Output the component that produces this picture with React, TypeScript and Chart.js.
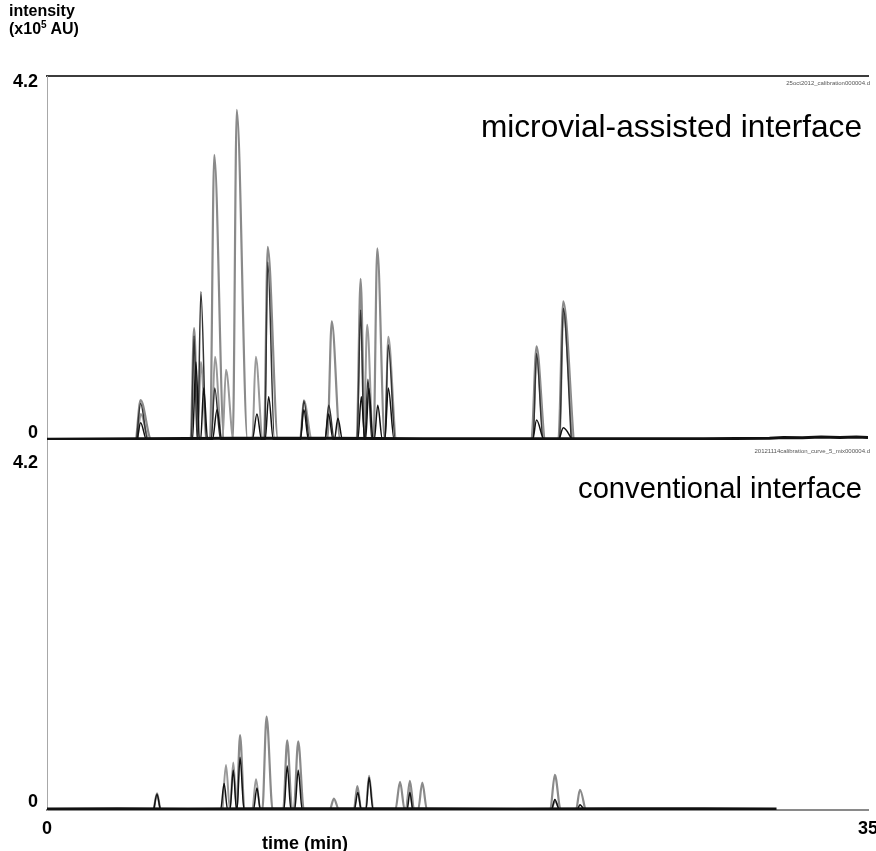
import React, { useEffect, useRef } from 'react';
import { Chart, registerables } from 'chart.js';

Chart.register(...registerables);

const FONT = '"Liberation Sans", Arial, Helvetica, sans-serif';

// ---- text ----
const yTitleLine1 = 'intensity';
const yTitleUnitPre = '(x10';
const yTitleUnitSup = '5';
const yTitleUnitPost = ' AU)';
const xTitle = 'time (min)';
const topPanelLabel = 'microvial-assisted interface';
const bottomPanelLabel = 'conventional interface';
const topFileName = '25oct2012_calibration000004.d';
const bottomFileName = '20121114calibration_curve_5_mix000004.d';
const xTickLabels = ['0', '35'];
const yTickLabels = ['0', '4.2'];

// ---- axis ranges (time in min, intensity in 1e5 AU) ----
const timeMin = 0;
const timeMax = 35;
const intensityMax = 4.2;

// ---- peaks: [start time, apex time, end time, apex intensity] ----
// microvial-assisted interface (top panel)
const topGrayPeaks = [
  [3.8, 3.99, 4.45, 0.46],
  [6.12, 6.27, 6.45, 1.29],
  [6.95, 7.13, 7.55, 3.29],
  [7.92, 8.09, 8.55, 3.81],
  [9.25, 9.41, 9.85, 2.23],
  [11.95, 12.14, 12.5, 1.37],
  [13.2, 13.37, 13.55, 1.86],
  [13.92, 14.08, 14.4, 2.21],
  [20.65, 20.87, 21.25, 1.08],
  [21.8, 22.01, 22.45, 1.6],
];
const topGray2Peaks = [
  [3.85, 4.0, 4.35, 0.3],
  [6.42, 6.56, 6.8, 0.9],
  [7.0, 7.16, 7.45, 0.96],
  [7.48, 7.63, 7.95, 0.81],
  [8.75, 8.9, 9.2, 0.96],
  [10.78, 10.95, 11.3, 0.46],
  [13.5, 13.65, 13.9, 1.33],
  [14.4, 14.55, 14.9, 1.19],
  [20.7, 20.87, 21.2, 0.95],
  [21.85, 22.01, 22.4, 1.45],
];
const topDarkPeaks = [
  [3.82, 3.99, 4.3, 0.42],
  [6.15, 6.27, 6.4, 1.2],
  [6.42, 6.56, 6.8, 1.71],
  [7.0, 7.15, 7.4, 0.6],
  [9.28, 9.41, 9.7, 2.05],
  [10.8, 10.95, 11.2, 0.45],
  [11.85, 12.01, 12.25, 0.4],
  [13.22, 13.37, 13.52, 1.5],
  [13.55, 13.68, 13.85, 0.7],
  [14.4, 14.55, 14.85, 1.1],
  [20.72, 20.87, 21.15, 1.0],
  [21.85, 22.01, 22.35, 1.52],
];
const topBlackPeaks = [
  [3.85, 3.99, 4.25, 0.2],
  [6.2, 6.35, 6.5, 0.9],
  [6.55, 6.68, 6.85, 0.6],
  [7.05, 7.25, 7.45, 0.35],
  [8.75, 8.95, 9.15, 0.3],
  [9.3, 9.45, 9.65, 0.5],
  [10.8, 10.95, 11.15, 0.35],
  [11.85, 12.0, 12.2, 0.3],
  [12.25, 12.4, 12.6, 0.25],
  [13.25, 13.4, 13.55, 0.5],
  [13.58, 13.72, 13.9, 0.6],
  [13.95, 14.1, 14.3, 0.4],
  [14.4, 14.55, 14.8, 0.6],
  [20.7, 20.87, 21.2, 0.23],
  [21.8, 22.01, 22.4, 0.14],
];
// baseline: [time, intensity]
const topBaseline = [
  [0, 0.01], [4, 0.015], [8, 0.02], [12, 0.02], [16, 0.015], [20, 0.015],
  [24, 0.015], [28, 0.015], [30.8, 0.02], [31.4, 0.03], [32.2, 0.025],
  [33.0, 0.035], [33.8, 0.03], [34.5, 0.035], [35, 0.03],
];

// conventional interface (bottom panel)
const bottomGrayPeaks = [
  [4.55, 4.69, 4.85, 0.19],
  [8.08, 8.23, 8.42, 0.85],
  [9.18, 9.36, 9.62, 1.06],
  [10.07, 10.24, 10.45, 0.79],
  [10.52, 10.71, 10.95, 0.78],
  [12.05, 12.23, 12.45, 0.13],
  [13.08, 13.23, 13.4, 0.27],
  [14.85, 15.05, 15.25, 0.32],
  [15.3, 15.47, 15.65, 0.33],
  [15.82, 16.0, 16.2, 0.31],
  [21.45, 21.65, 21.9, 0.4],
  [22.55, 22.72, 22.95, 0.23],
];
const bottomGray2Peaks = [
  [7.48, 7.63, 7.8, 0.51],
  [7.8, 7.94, 8.1, 0.54],
  [8.75, 8.91, 9.1, 0.35],
  [13.58, 13.73, 13.92, 0.39],
  [15.3, 15.47, 15.6, 0.25],
  [21.5, 21.65, 21.85, 0.1],
];
const bottomDarkPeaks = [
  [4.55, 4.69, 4.85, 0.18],
  [7.4, 7.55, 7.7, 0.3],
  [7.8, 7.94, 8.08, 0.45],
  [8.1, 8.23, 8.4, 0.6],
  [8.8, 8.95, 9.1, 0.25],
  [10.1, 10.24, 10.4, 0.5],
  [10.56, 10.71, 10.88, 0.45],
  [13.1, 13.25, 13.4, 0.2],
  [13.6, 13.73, 13.9, 0.37],
  [15.35, 15.47, 15.6, 0.2],
  [21.5, 21.65, 21.85, 0.12],
  [22.6, 22.72, 22.9, 0.06],
];
const bottomBaseline = [
  [0, 0.01], [3, 0.015], [6, 0.01], [9, 0.015], [12, 0.015], [16, 0.015],
  [20, 0.01], [24, 0.015], [28, 0.015], [31.1, 0.01],
];

const GRAY = '#8a8a8a';
const GRAY2 = '#999999';
const DARK = '#333333';
const BLACK = '#111111';

function peaksToPoints(peaks: number[][]) {
  const pts: { x: number; y: number }[] = [];
  peaks.forEach(([s, a, e, h]) => {
    pts.push({ x: s, y: 0 }, { x: a, y: h }, { x: e, y: 0 });
  });
  return pts;
}
function pairsToPoints(pairs: number[][]) {
  return pairs.map(([x, y]) => ({ x, y }));
}

function peakDataset(peaks: number[][], axis: string, color: string, width: number) {
  return {
    data: peaksToPoints(peaks),
    yAxisID: axis,
    xAxisID: 'x',
    borderColor: color,
    borderWidth: width,
    pointRadius: 0,
    fill: false,
    cubicInterpolationMode: 'monotone' as const,
  };
}
function baseDataset(pairs: number[][], axis: string) {
  return {
    data: pairsToPoints(pairs),
    yAxisID: axis,
    xAxisID: 'x',
    borderColor: BLACK,
    borderWidth: 3,
    pointRadius: 0,
    fill: false,
    tension: 0,
  };
}

const tickFont = { family: FONT, size: 18, weight: 'bold' as const };

export default function App() {
  const canvasRef = useRef<HTMLCanvasElement | null>(null);

  useEffect(() => {
    if (!canvasRef.current) return;
    const chart = new Chart(canvasRef.current, {
      type: 'line',
      data: {
        datasets: [
          baseDataset(topBaseline, 'yT'),
          baseDataset(bottomBaseline, 'yB'),
          peakDataset(topBlackPeaks, 'yT', BLACK, 1.5),
          peakDataset(bottomDarkPeaks, 'yB', BLACK, 1.5),
          peakDataset(topDarkPeaks, 'yT', DARK, 1.5),
          peakDataset(topGray2Peaks, 'yT', GRAY2, 2),
          peakDataset(bottomGray2Peaks, 'yB', GRAY2, 2),
          peakDataset(topGrayPeaks, 'yT', GRAY, 2.2),
          peakDataset(bottomGrayPeaks, 'yB', GRAY, 2.2),
        ] as any,
      },
      options: {
        responsive: false,
        animation: false,
        devicePixelRatio: 1,
        layout: { padding: { top: 76, left: 0, right: 8, bottom: 0 } },
        plugins: { legend: { display: false }, tooltip: { enabled: false }, title: { display: false } },
        scales: {
          x: {
            type: 'linear',
            position: 'bottom',
            min: timeMin,
            max: timeMax,
            grid: { display: false, drawTicks: false },
            border: { display: true, color: '#8a8a8a', width: 2 },
            ticks: {
              font: tickFont,
              color: '#000',
              padding: 8,
              maxRotation: 0,
              autoSkip: false,
              callback: (_v: any, i: number) => xTickLabels[i],
            },
            afterBuildTicks: (s: any) => {
              s.ticks = [{ value: timeMin }, { value: timeMax }];
            },
            afterFit: (s: any) => {
              s.height = 41;
              s.paddingLeft = 0;
              s.paddingRight = 0;
            },
          },
          xTop: {
            type: 'linear',
            position: 'top',
            min: timeMin,
            max: timeMax,
            grid: { display: false, drawTicks: false },
            border: { display: true, color: '#3c3c3c', width: 2 },
            ticks: { display: false },
            afterFit: (s: any) => {
              s.height = 0;
              s.paddingLeft = 0;
              s.paddingRight = 0;
            },
          },
          yB: {
            type: 'linear',
            position: 'left',
            stack: 'panels',
            stackWeight: 370,
            min: 0,
            max: intensityMax,
            grid: { display: false, drawTicks: false },
            border: { display: true, color: '#a8a8a8', width: 1 },
            ticks: {
              font: tickFont,
              color: '#000',
              padding: 9,
              callback: (_v: any, i: number) => yTickLabels[i],
            },
            afterBuildTicks: (s: any) => {
              s.ticks = [{ value: 0.09 }, { value: 3.94 }];
            },
            afterFit: (s: any) => {
              s.width = 47;
            },
          },
          yT: {
            type: 'linear',
            position: 'left',
            stack: 'panels',
            stackWeight: 364,
            min: 0,
            max: intensityMax,
            grid: { display: false, drawTicks: false },
            border: { display: true, color: '#a8a8a8', width: 1 },
            ticks: {
              font: tickFont,
              color: '#000',
              padding: 9,
              callback: (_v: any, i: number) => yTickLabels[i],
            },
            afterBuildTicks: (s: any) => {
              s.ticks = [{ value: 0.08 }, { value: 4.13 }];
            },
            afterFit: (s: any) => {
              s.width = 47;
            },
          },
        },
      } as any,
    });
    return () => chart.destroy();
  }, []);

  const base: React.CSSProperties = {
    position: 'absolute',
    fontFamily: FONT,
    color: '#000',
    whiteSpace: 'nowrap',
    lineHeight: 1,
  };

  return (
    <div style={{ position: 'absolute', left: 0, top: 0, width: 876, height: 851, background: '#fff', overflow: 'hidden' }}>
      <canvas ref={canvasRef} width={876} height={851} style={{ position: 'absolute', left: 0, top: 0 }} />
      <div style={{ ...base, left: 9, top: 3, fontSize: 16, fontWeight: 'bold' }}>{yTitleLine1}</div>
      <div style={{ ...base, left: 9, top: 21, fontSize: 16, fontWeight: 'bold' }}>
        {yTitleUnitPre}
        <span style={{ fontSize: 10, position: 'relative', top: -6 }}>{yTitleUnitSup}</span>
        {yTitleUnitPost}
      </div>
      <div style={{ ...base, right: 14, top: 111, fontSize: 31.6 }}>{topPanelLabel}</div>
      <div style={{ ...base, right: 14, top: 474, fontSize: 29.2 }}>{bottomPanelLabel}</div>
      <div style={{ ...base, right: 6, top: 80, fontSize: 6, color: '#555' }}>{topFileName}</div>
      <div style={{ ...base, right: 6, top: 448, fontSize: 6, color: '#555' }}>{bottomFileName}</div>
      <div style={{ ...base, left: 262, top: 834, fontSize: 18, fontWeight: 'bold' }}>{xTitle}</div>
    </div>
  );
}
